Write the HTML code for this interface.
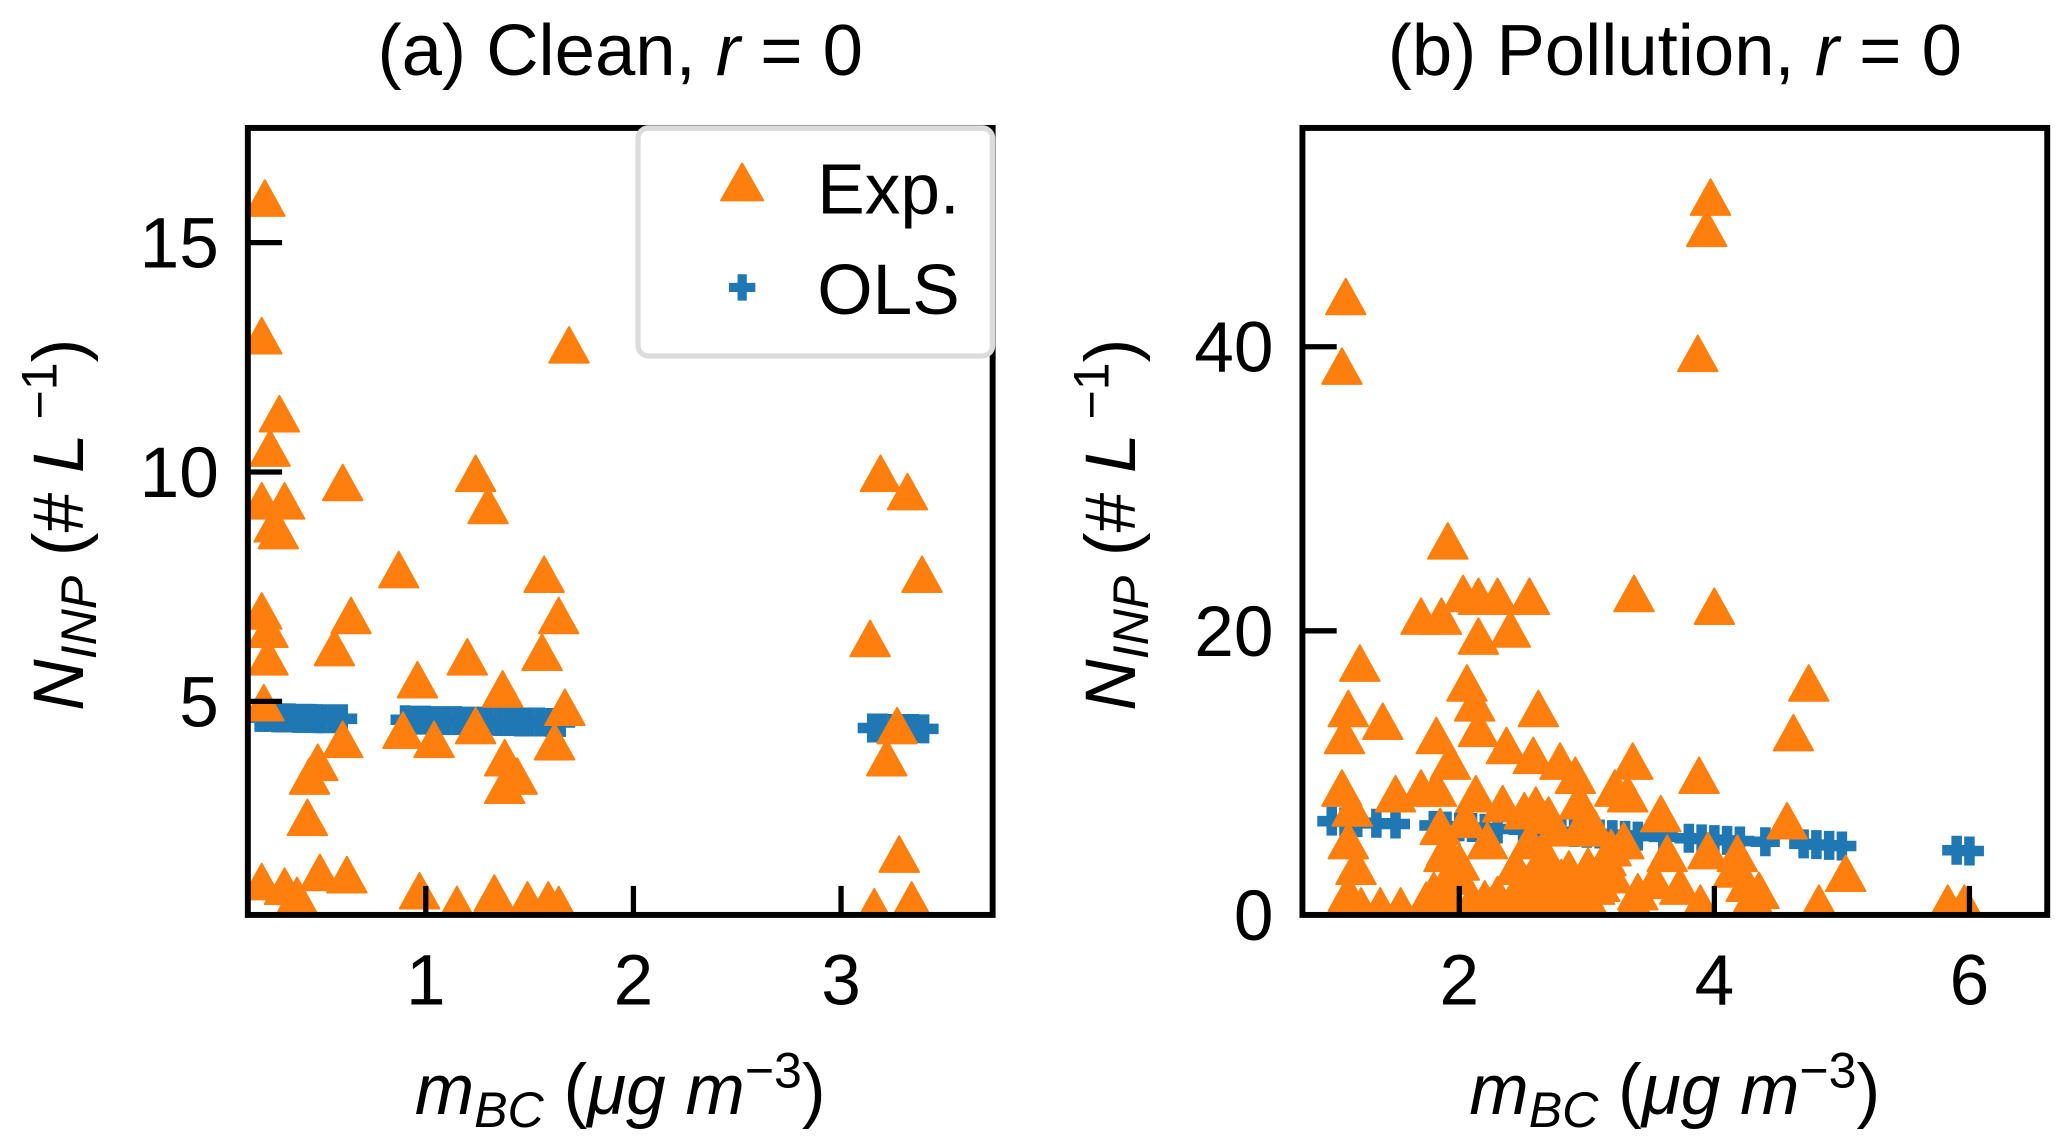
<!DOCTYPE html>
<html><head><meta charset="utf-8"><style>
html,body{margin:0;padding:0;background:#fff;}
svg{display:block;font-family:"Liberation Sans",sans-serif;}
</style></head><body>
<svg id="chart" width="2067" height="1147" viewBox="0 0 1568 870" xmlns="http://www.w3.org/2000/svg"></svg>
<script>
// Panel (a) Clean data
const aExpX=[0.225,0.21,0.295,0.25,0.21,0.32,0.27,0.29,0.6,0.87,1.24,1.3,1.57,1.64,1.56,0.21,0.24,0.24,0.64,0.56,0.96,1.2,1.37,1.67,0.22,1.69,0.89,1.04,1.24,1.62,0.6,0.48,0.44,1.38,1.44,1.38,0.43,0.49,0.62,0.21,0.32,0.38,0.97,1.15,1.33,1.49,1.59,1.64,3.14,3.19,3.32,3.39,3.27,3.22,3.28,3.16,3.34];
const aExpY=[15.9,12.9,11.2,10.45,9.3,9.3,8.8,8.65,9.7,7.8,9.9,9.2,7.7,6.8,6.0,6.9,5.9,6.5,6.8,6.1,5.4,5.9,5.2,4.8,4.9,12.7,4.3,4.1,4.4,4.05,4.1,3.6,3.3,3.7,3.3,3.1,2.4,1.2,1.15,1.0,0.9,0.7,0.8,0.5,0.75,0.6,0.6,0.5,6.3,9.9,9.5,7.7,4.4,3.7,1.6,0.45,0.6];
const aOlsX=[0.2,0.22,0.25,0.28,0.3,0.33,0.35,0.38,0.4,0.43,0.45,0.48,0.5,0.55,0.6,0.9,0.95,1.0,1.05,1.1,1.15,1.2,1.25,1.3,1.35,1.4,1.45,1.5,1.55,1.6,1.65,3.15,3.2,3.25,3.3,3.35,3.4];
const aOlsY=[4.65,4.65,4.65,4.64,4.64,4.64,4.64,4.63,4.63,4.63,4.63,4.62,4.62,4.62,4.62,4.6,4.59,4.59,4.58,4.58,4.58,4.57,4.57,4.57,4.56,4.56,4.55,4.55,4.55,4.54,4.54,4.42,4.42,4.41,4.41,4.41,4.40];
const aXTicks=[1,2,3];
const aYTicks=[5,10,15];
// Panel (b) Pollution data
const bExpX=[1.11,1.08,3.97,3.94,3.87,4.0,3.37,1.91,2.03,2.15,2.3,2.55,1.7,1.86,2.15,2.4,2.06,2.12,2.62,2.15,1.22,1.13,1.4,1.82,2.37,4.74,4.62,3.88,1.5,3.36,2.79,2.58,2.91,3.32,2.94,1.93,1.82,1.7,2.13,2.34,2.51,2.75,3.06,4.57,3.19,3.29,3.63,3.95,4.18,5.03,4.25,4.3,1.88,1.93,2.44,2.67,2.86,3.01,3.53,3.73,3.37,3.03,2.65,2.24,1.93,1.74,1.16,1.13,1.19,1.13,1.23,1.38,1.54,3.89,4.82,5.83,5.96,1.08,1.1,2.22,2.55,2.75,2.44,3.06,3.58,3.22,1.8,1.9,2.0,2.1,2.3,2.5,2.6,2.7,2.8,2.9,3.1,3.2,3.4,1.85,2.05,2.6,2.7,2.95,3.15,1.9,2.0,2.2,2.6,2.8,4.15,4.35];
const bExpY=[43.3,38.4,50.3,48.1,39.3,21.5,22.4,26.1,22.4,22.2,22.2,22.2,20.8,20.8,19.4,19.9,16.1,14.7,14.3,12.9,17.5,14.3,13.4,12.4,11.7,16.1,12.6,9.6,8.3,10.6,10.6,11.0,9.6,8.3,7.8,10.6,8.7,8.7,8.3,7.6,7.1,5.9,5.9,6.4,4.5,5.0,4.1,4.3,4.1,2.7,2.0,1.1,4.1,2.7,3.2,4.1,3.0,3.2,2.2,1.8,0.6,0.6,0.4,0.4,0.4,0.8,7.3,5.0,3.2,1.3,0.4,0.4,0.4,0.6,0.6,0.6,0.6,8.7,12.4,5.0,5.0,2.2,1.3,1.8,6.9,8.7,1.5,1.0,2.5,0.8,1.2,1.6,3.0,1.0,2.4,1.4,2.0,2.6,1.4,6.0,6.5,7.5,6.8,6.0,3.8,4.5,3.5,0.9,0.8,0.7,3.0,1.5];
const bOlsX=[1.0,1.1,1.2,1.35,1.5,1.8,1.9,2.0,2.1,2.2,2.3,2.5,2.6,2.7,2.8,2.9,3.0,3.1,3.2,3.3,3.4,3.6,3.8,3.9,4.0,4.1,4.2,4.4,4.7,4.8,4.9,5.0,5.9,6.0];
const bOlsY=[6.6,6.55,6.5,6.45,6.4,6.3,6.25,6.2,6.15,6.1,6.05,6.0,5.95,5.9,5.85,5.8,5.75,5.7,5.65,5.6,5.55,5.5,5.4,5.35,5.3,5.25,5.2,5.15,5.0,4.95,4.9,4.85,4.55,4.5];
const bXTicks=[2,4,6];
const bYTicks=[0,20,40];

const NS="http://www.w3.org/2000/svg";
const svg=document.getElementById('chart');
function mk(tag,attrs,parent){const e=document.createElementNS(NS,tag);for(const k in attrs)e.setAttribute(k,attrs[k]);(parent||svg).appendChild(e);return e;}

function panel(cfg){
  const g=mk('g',{});
  
  
  const L=cfg.left,R=cfg.right,T=97,B=694;
  const sx=v=>L+(v-cfg.x0)/(cfg.x1-cfg.x0)*(R-L);
  const sy=v=>B-(v-cfg.y0)/(cfg.y1-cfg.y0)*(B-T);
  const clipId=cfg.name+'-clip';
  const cp=mk('clipPath',{id:clipId},g);
  mk('rect',{x:L,y:T,width:R-L,height:B-T},cp);
  const marks=mk('g',{'clip-path':'url(#'+clipId+')'},g);
  cfg.ox.forEach((x,i)=>{
    const px=sx(x),py=sy(cfg.oy[i]);
    const p=mk('path',{d:`M${px-11},${py}H${px+11}M${px},${py-11}V${py+11}`,stroke:'#1f77b4','stroke-width':8,fill:'none'},marks);
    
    
  });
  cfg.ex.forEach((x,i)=>{
    const px=sx(x),py=sy(cfg.ey[i]);
    const p=mk('polygon',{points:`${px},${py-16} ${px+15},${py+11} ${px-15},${py+11}`,fill:'#ff7f0e','stroke':'#ff7f0e','stroke-width':1.5,'stroke-linejoin':'round'},marks);
    
    
  });
  cfg.xt.forEach(v=>{
    const px=sx(v);
    mk('line',{x1:px,x2:px,y1:B,y2:B-22,stroke:'#000','stroke-width':4},g);
    const t=mk('text',{x:px,y:B+68,'text-anchor':'middle','font-size':54,fill:'#000'},g);
    t.textContent=v;
    
    
  });
  cfg.yt.forEach(v=>{
    const py=sy(v);
    mk('line',{x1:L,x2:L+26,y1:py,y2:py,stroke:'#000','stroke-width':4},g);
    const t=mk('text',{x:L-22,y:py+19,'text-anchor':'end','font-size':54,fill:'#000'},g);
    t.textContent=v;
    
    
  });
  const fr=mk('rect',{x:L,y:T,width:R-L,height:B-T,fill:'none',stroke:'#000','stroke-width':4.5},g);
  
  
  const cx=(L+R)/2;
  const ti=mk('text',{x:cx,y:57,'text-anchor':'middle','font-size':55,fill:'#000'},g);
  ti.innerHTML=cfg.title+', <tspan font-style="italic">r</tspan> = 0';
  
  
  const xl=mk('text',{x:cx,y:845,'text-anchor':'middle','font-size':54,fill:'#000'},g);
  xl.innerHTML='<tspan font-style="italic">m</tspan><tspan font-style="italic" font-size="38" dy="10">BC</tspan><tspan dy="-10"> (</tspan><tspan font-style="italic">μg m</tspan><tspan font-size="38" dy="-20">−3</tspan><tspan dy="20">)</tspan>';
  
  
  const yl=mk('text',{x:0,y:0,'text-anchor':'middle','font-size':54,fill:'#000',transform:`translate(${cfg.ylx},398) rotate(-90)`},g);
  yl.innerHTML='<tspan font-style="italic">N</tspan><tspan font-style="italic" font-size="38" dy="10">INP</tspan><tspan dy="-10"> (# </tspan><tspan font-style="italic">L</tspan><tspan font-size="38" dy="-20"> −1</tspan><tspan dy="20">)</tspan>';
  
  
  return g;
}

panel({name:'panel-clean',left:188,right:753,x0:0.143,x1:3.73,y0:0.345,y1:17.5,ex:aExpX,ey:aExpY,ox:aOlsX,oy:aOlsY,xt:aXTicks,yt:aYTicks,title:'(a) Clean',ylx:63});
panel({name:'panel-pollution',left:988,right:1553,x0:0.77,x1:6.61,y0:0,y1:55.4,ex:bExpX,ey:bExpY,ox:bOlsX,oy:bOlsY,xt:bXTicks,yt:bYTicks,title:'(b) Pollution',ylx:861});

// legend
const lg=mk('g',{});


mk('rect',{x:484,y:97,width:269,height:173,rx:8,fill:'rgba(255,255,255,0.85)',stroke:'#dcdcdc','stroke-width':4},lg);
const lt=mk('polygon',{points:'563,124 579,152 547,152',fill:'#ff7f0e',stroke:'#ff7f0e','stroke-width':1.5,'stroke-linejoin':'round'},lg);


const le=mk('text',{x:620,y:162,'font-size':54,fill:'#000'},lg);
le.textContent='Exp.';


const lp=mk('path',{d:'M553,218H573M563,208V228',stroke:'#1f77b4','stroke-width':7,fill:'none'},lg);


const lo=mk('text',{x:620,y:238,'font-size':54,fill:'#000'},lg);
lo.textContent='OLS';


</script>
</body></html>
